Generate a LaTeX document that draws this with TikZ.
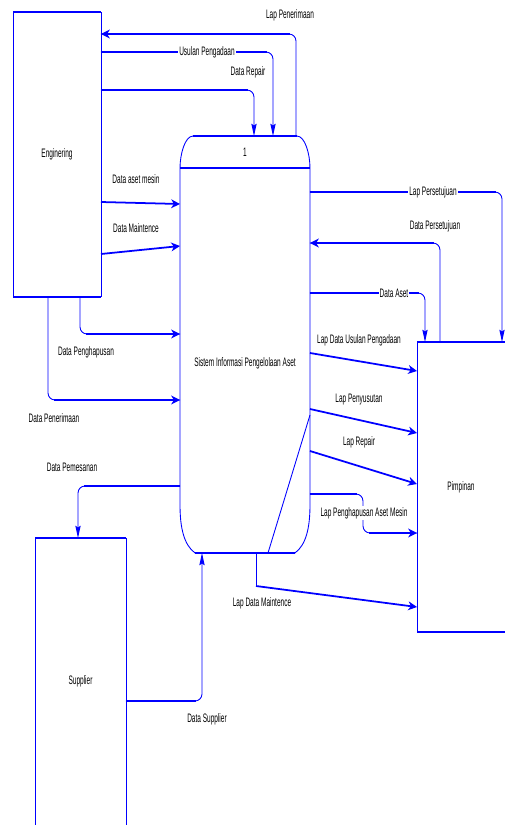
\documentclass[tikz,border=0pt]{standalone}
\usepackage{fontspec}
\newfontfamily\lbl[FakeStretch=0.53]{Liberation Sans}
\usetikzlibrary{arrows.meta,calc}
\tikzset{
  alir/.style={draw=blue, line width=1pt, -{Stealth[length=5pt,width=5pt,inset=1.5pt]}},
  alirV/.style={draw=blue, line width=0.5pt, rounded corners=4pt, -{Stealth[length=7pt,width=3pt,inset=1pt]}},
  jalur/.style={draw=blue, line width=0.5pt, rounded corners=4pt},
  lurus/.style={draw=blue, line width=1pt},
  tebal/.style={draw=blue, line width=1.3pt},
  tipis/.style={draw=blue, line width=0.5pt},
  kotak/.style={draw=none, inner sep=0pt, outer sep=0pt, font=\lbl\fontsize{7}{8}\selectfont},
  ket/.style={fill=white, inner sep=0.6pt, font=\lbl\fontsize{7}{8}\selectfont}
}

\begin{document}
\begin{tikzpicture}[x=0.02cm, y=-0.02cm]
  \useasboundingbox (0,0) rectangle (505,825);
  \node[kotak, minimum width=1.76cm, minimum height=5.7cm] (eng) at (57,154.5) {Enginering};
  \node[kotak, minimum width=2.6cm, minimum height=8.34cm] (proses) at (245,344.5) {};
  \node[kotak, minimum width=1.76cm, minimum height=5.8cm] (pim) at (461,487) {Pimpinan};
  \node[kotak, minimum width=1.82cm, minimum height=5.74cm] (sup) at (80.5,681.5) {Supplier};
  \node[ket, fill=none] (nomor) at (245,152) {1};
  \node[ket, fill=none] (judul) at (245,363) {Sistem Informasi Pengelolaan Aset};

  \draw[tipis] (eng.north west) -- (eng.south west) (eng.north east) -- (eng.south east);
  \draw[tebal] (eng.north west) -- (eng.north east) (eng.south west) -- (eng.south east);
  \draw[tipis] (pim.north west) -- (pim.south west);
  \draw[tebal] (pim.north west) -- (pim.north east) (pim.south west) -- (pim.south east);
  \draw[tipis] (sup.north west) -- (sup.south west) (sup.north east) -- (sup.south east);
  \draw[tebal] (sup.north west) -- (sup.north east);

  \draw[tipis] ($(proses.south west)+(15,0)$) .. controls ($(proses.south west)+(4,-8)$) and ($(proses.south west)+(0,-25)$) .. ($(proses.south west)+(0,-48)$)
    -- ($(proses.north west)+(0,32)$) .. controls ($(proses.north west)+(0,18)$) and ($(proses.north west)+(5,0)$) .. ($(proses.north west)+(13,0)$);
  \draw[tipis] ($(proses.south east)+(-15,0)$) .. controls ($(proses.south east)+(-4,-8)$) and ($(proses.south east)+(0,-25)$) .. ($(proses.south east)+(0,-48)$)
    -- ($(proses.north east)+(0,32)$) .. controls ($(proses.north east)+(0,18)$) and ($(proses.north east)+(-5,0)$) .. ($(proses.north east)+(-13,0)$);
  \draw[tebal] ($(proses.north west)+(13,0)$) -- ($(proses.north east)+(-13,0)$);
  \draw[tebal] ($(proses.north west)+(0,32)$) -- ($(proses.north east)+(0,32)$);
  \draw[tebal] ($(proses.south west)+(15,0)$) -- ($(proses.south east)+(-15,0)$);
  \draw[tipis] (proses.east |- 0,415) -- (proses.south -| 268,0);

  \draw[jalur] (proses.north -| 296,0) |- (eng.east |- 0,34);
  \draw[alir] (290,34) -- (eng.east |- 0,34);
  \draw[alirV] (eng.east |- 0,52) -| (proses.north -| 273,0);
  \draw[lurus] (eng.east |- 0,52) -- (267,52);
  \draw[alirV] (eng.east |- 0,90) -| (proses.north -| 254,0);
  \draw[lurus] (eng.east |- 0,90) -- (248,90);
  \draw[alir] (eng.east |- 0,202) -- (proses.west |- 0,204);
  \draw[alir] (eng.east |- 0,254) -- (proses.west |- 0,246);
  \draw[jalur] (eng.south -| 80,0) |- (proses.west |- 0,334);
  \draw[alir] (86,334) -- (proses.west |- 0,334);
  \draw[jalur] (eng.south -| 48,0) |- (proses.west |- 0,400);
  \draw[alir] (54,400) -- (proses.west |- 0,400);
  \draw[alirV] (proses.west |- 0,486) -| (sup.north -| 78,0);
  \draw[lurus] (proses.west |- 0,486) -- (84,486);
  \draw[alirV] (sup.east |- 0,701) -| (proses.south -| 202,0);
  \draw[lurus] (sup.east |- 0,701) -- (196,701);
  \coordinate (tekuk) at (256,586);
  \draw[tipis] (proses.south -| tekuk) -- (tekuk);
  \draw[alir] (tekuk) -- (pim.west |- 0,607);
  \draw[jalur] (proses.east |- 0,494) -- (363,494) -- (363,533) -- (pim.west |- 0,533);
  \draw[lurus] (proses.east |- 0,494) -- (357,494);
  \draw[alir] (369,533) -- (pim.west |- 0,533);
  \draw[alir] (proses.east |- 0,451) -- (pim.west |- 0,484);
  \draw[alir] (proses.east |- 0,409) -- (pim.west |- 0,433);
  \draw[alir] (proses.east |- 0,353) -- (pim.west |- 0,371);
  \draw[alirV] (proses.east |- 0,293) -| (pim.north -| 425,0);
  \draw[lurus] (proses.east |- 0,293) -- (419,293);
  \draw[jalur] (pim.north -| 440,0) |- (proses.east |- 0,243);
  \draw[alir] (434,243) -- (proses.east |- 0,243);
  \draw[alirV] (proses.east |- 0,192) -| (pim.north -| 502,0);
  \draw[lurus] (proses.east |- 0,192) -- (496,192);

  \node[ket] (tPenerimaan) at (290,15) {Lap Penerimaan};
  \node[ket] (tUsulan) at (207,52) {Usulan Pengadaan};
  \node[ket] (tRepair) at (248,72) {Data Repair};
  \node[ket] (tAsetMesin) at (136,179) {Data aset mesin};
  \node[ket] (tMaintence) at (136,228) {Data Maintence};
  \node[ket] (tHapus) at (86,352) {Data Penghapusan};
  \node[ket] (tTerima) at (54,418) {Data Penerimaan};
  \node[ket] (tPesan) at (72,467) {Data Pemesanan};
  \node[ket] (tSupplier) at (207,719) {Data Supplier};
  \node[ket] (tLapMaint) at (262,603) {Lap Data Maintence};
  \node[ket] (tLapHapus) at (364,513) {Lap Penghapusan Aset Mesin};
  \node[ket] (tLapRepair) at (359,442) {Lap Repair};
  \node[ket] (tSusut) at (359,400) {Lap Penyusutan};
  \node[ket] (tLapUsulan) at (359,340) {Lap Data Usulan Pengadaan};
  \node[ket] (tAset) at (394,293) {Data Aset};
  \node[ket] (tSetuju) at (435,226) {Data Persetujuan};
  \node[ket] (tLapSetuju) at (433,192) {Lap Persetujuan};
\end{tikzpicture}
\end{document}
